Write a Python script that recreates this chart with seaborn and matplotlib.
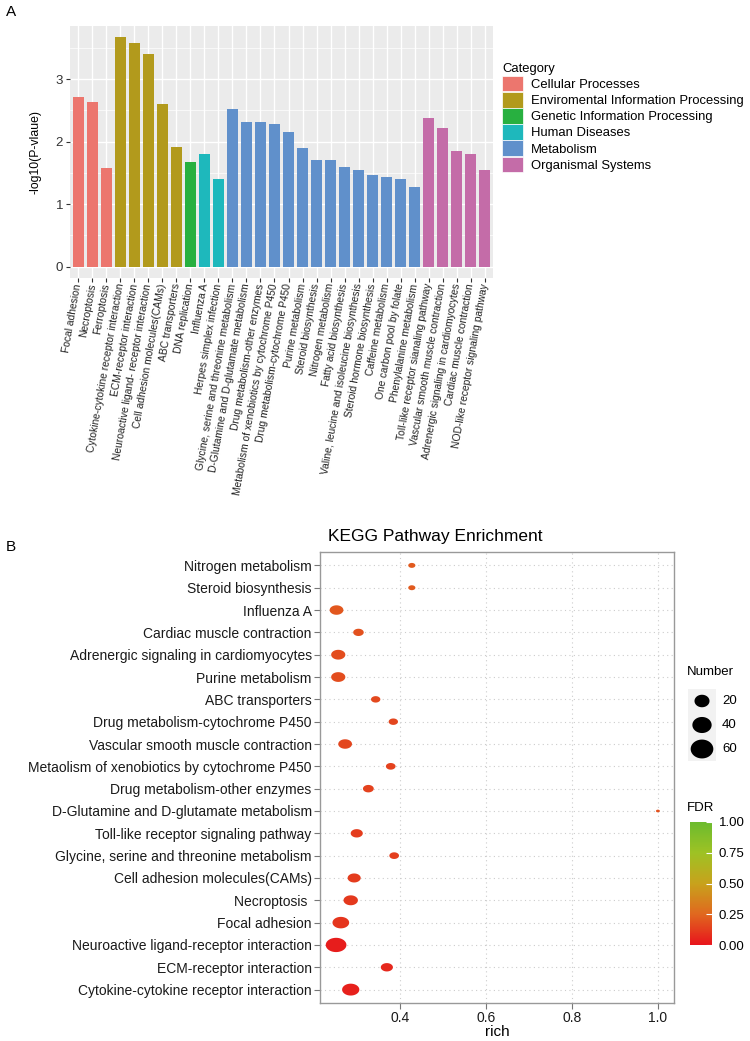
import numpy as np
import pandas as pd
import matplotlib
matplotlib.use("Agg")
import matplotlib.pyplot as plt
from matplotlib.path import Path
from matplotlib.patches import Patch
from matplotlib.colors import LinearSegmentedColormap, Normalize
from matplotlib.cm import ScalarMappable
import seaborn as sns

# ---- panel A data: -log10(p) per KEGG pathway
pathways_a = [
    'Focal adhesion', 'Necroptosis', 'Ferroptosis',
    'Cytokine-cytokine receptor interaction', 'ECM-receptor interaction',
    'Neuroactive ligand- receptor interaction', 'Cell adhesion molecules(CAMs)',
    'ABC transporters', 'DNA replication', 'Influenza A', 'Herpes simplex infection',
    'Glycine, serine and threonine metabolism', 'D-Glutamine and D-glutamate metabolism',
    'Drug metabolism-other enzymes', 'Metabolism of xenobiotics by cytochrome P450',
    'Drug metabolism-cytochrome P450', 'Purine metabolism', 'Steroid biosynthesis',
    'Nitrogen metabolism', 'Fatty acid biosynthesis',
    'Valine, leucine and isoleucine biosynthesis', 'Steroid hormone biosynthesis',
    'Caffeine metabolism', 'One carbon pool by folate', 'Phenylalanine metabolism',
    'Toll-like receptor sianaling pathway', 'Vascular smooth muscle contraction',
    'Adrenergic signaling in cardiomyocytes', 'Cardiac muscle contraction',
    'NOD-like receptor signaling pathway',
]
logp_a = [2.71, 2.64, 1.58, 3.67, 3.58, 3.40, 2.60, 1.92, 1.67, 1.80, 1.41,
          2.53, 2.32, 2.32, 2.28, 2.16, 1.90, 1.70, 1.70, 1.59, 1.54, 1.46,
          1.44, 1.40, 1.28, 2.38, 2.22, 1.85, 1.81, 1.55]
category_a = (['Cellular Processes'] * 3 + ['Enviromental Information Processing'] * 5
              + ['Genetic Information Processing'] + ['Human Diseases'] * 2
              + ['Metabolism'] * 14 + ['Organismal Systems'] * 5)
category_order = ['Cellular Processes', 'Enviromental Information Processing',
                  'Genetic Information Processing', 'Human Diseases',
                  'Metabolism', 'Organismal Systems']
category_colors = ['#EC766E', '#B29A1C', '#28B040', '#1EB8BC', '#6090CB', '#C46CA8']

# ---- panel B data: enrichment dot plot (top row first)
pathways_b = [
    'Nitrogen metabolism', 'Steroid biosynthesis', 'Influenza A',
    'Cardiac muscle contraction', 'Adrenergic signaling in cardiomyocytes',
    'Purine metabolism', 'ABC transporters', 'Drug metabolism-cytochrome P450',
    'Vascular smooth muscle contraction', 'Metaolism of xenobiotics by cytochrome P450',
    'Drug metabolism-other enzymes', 'D-Glutamine and D-glutamate metabolism',
    'Toll-like receptor signaling pathway', 'Glycine, serine and threonine metabolism',
    'Cell adhesion molecules(CAMs)', 'Necroptosis ', 'Focal adhesion',
    'Neuroactive ligand-receptor interaction', 'ECM-receptor interaction',
    'Cytokine-cytokine receptor interaction',
]
rich_b = [0.428, 0.428, 0.253, 0.304, 0.257, 0.257, 0.344, 0.385, 0.273, 0.379,
          0.327, 1.0, 0.300, 0.387, 0.294, 0.286, 0.263, 0.252, 0.370, 0.286]
number_b = [7, 7, 30, 17, 32, 32, 13, 13, 30, 14, 18, 1, 23, 14, 27, 33, 45, 70, 23, 48]
fdr_b = [0.21, 0.21, 0.20, 0.18, 0.17, 0.17, 0.16, 0.15, 0.15, 0.14, 0.14, 0.18,
         0.12, 0.13, 0.12, 0.11, 0.10, 0.03, 0.06, 0.04]
number_breaks = [20, 40, 60]
fdr_ticks = [0.0, 0.25, 0.5, 0.75, 1.0]

plt.rcParams['font.family'] = ['Liberation Sans', 'DejaVu Sans']

W, H = 750, 1041
fig = plt.figure(figsize=(W / 100, H / 100), dpi=100)


def fbox(x0, y0, x1, y1):
    # pixel box (top-left origin) -> figure fraction rect
    return [x0 / W, 1 - y1 / H, (x1 - x0) / W, (y1 - y0) / H]


# ================= Panel A =================
df_a = pd.DataFrame({'pathway': pathways_a, 'logp': logp_a, 'category': category_a})
ax1 = fig.add_axes(fbox(70, 26, 493, 278))
ax1.set_facecolor('#EBEBEB')
sns.barplot(data=df_a, x='pathway', y='logp', hue='category', hue_order=category_order,
            palette=dict(zip(category_order, category_colors)), dodge=False,
            saturation=1, width=0.84, linewidth=0, ax=ax1, legend=False)
ax1.set_xlim(-0.6, len(pathways_a) - 0.4)
ax1.set_ylim(-0.18, 3.85)
ax1.set_yticks([0, 1, 2, 3])
ax1.set_yticks([0.5, 1.5, 2.5, 3.5], minor=True)
ax1.set_axisbelow(True)
ax1.grid(which='major', color='white', lw=1.0)
ax1.grid(which='minor', axis='y', color='white', lw=0.5)
for s in ax1.spines.values():
    s.set_visible(False)
ax1.tick_params(axis='y', which='major', labelsize=9.5, length=3, color='#333333',
                labelcolor='#333333', pad=2)
ax1.tick_params(axis='y', which='minor', length=0)
ax1.tick_params(axis='x', length=3, color='#333333', pad=1)
ax1.set_xticks(range(len(pathways_a)))
ax1.set_xticklabels(pathways_a, rotation=80, ha='right', va='center',
                    rotation_mode='anchor', fontsize=7.4, color='#222222')
ax1.set_xlabel('')
ax1.set_ylabel('-log10(P-vlaue)', fontsize=8.8, labelpad=10)

handles = [Patch(facecolor=c, edgecolor='white', lw=0.5) for c in category_colors]
leg = ax1.legend(handles, category_order, title='Category', loc='upper left',
                 bbox_to_anchor=(497 / W, 1 - 58 / H), bbox_transform=fig.transFigure,
                 frameon=False, fontsize=9.4, title_fontsize=9.4, handlelength=1.6,
                 handleheight=1.45, labelspacing=0.05, handletextpad=0.6,
                 alignment='left', borderaxespad=0)

fig.text(6 / W, 1 - 12 / H, 'A', fontsize=11, va='center')
fig.text(6 / W, 1 - 547 / H, 'B', fontsize=11, va='center')

# ================= Panel B =================
df_b = pd.DataFrame({'pathway': pathways_b, 'rich': rich_b,
                     'number': number_b, 'fdr': fdr_b}).iloc[::-1]
fdr_cmap = LinearSegmentedColormap.from_list(
    'fdr', ['#E8141C', '#E0681F', '#C8A21C', '#9EC224', '#6CBB2E'])

t = np.linspace(0, 2 * np.pi, 60)
ellipse = Path(np.column_stack([1.45 * np.cos(t), np.sin(t)]), closed=True)
ellipse_key = Path(np.column_stack([1.2 * np.cos(t), np.sin(t)]), closed=True)

ax2 = fig.add_axes(fbox(320, 552, 674, 1003))
sns.scatterplot(data=df_b, x='rich', y='pathway', size='number', sizes=(8, 222),
                size_norm=(1, 70), hue='fdr', palette=fdr_cmap, hue_norm=(0, 1),
                marker=ellipse, linewidth=0, ax=ax2, legend=False, zorder=3)
n = len(pathways_b)
ax2.set_ylim(-0.6, n - 0.4)
ax2.set_xlim(0.2146, 1.0374)
ax2.set_xticks([0.4, 0.6, 0.8, 1.0])
ax2.set_xticklabels(['0.4', '0.6', '0.8', '1.0'])
ax2.grid(True, color='#CCCCCC', lw=0.8, ls=(0, (1, 3)))
ax2.set_axisbelow(True)
for s in ax2.spines.values():
    s.set_color('#999999')
    s.set_linewidth(1.0)
ax2.tick_params(axis='both', length=4, color='#777777', labelsize=10,
                labelcolor='#1A1A1A', pad=2)
ax2.set_ylabel('')
ax2.set_xlabel('rich', fontsize=11, labelpad=0)
fig.text(435 / W, 1 - 537 / H, 'KEGG Pathway Enrichment', fontsize=12.5,
         ha='center', va='center')

# Number legend
fig.text(687 / W, 1 - 672 / H, 'Number', fontsize=9.5, va='center')
axn = fig.add_axes(fbox(688, 689, 716, 761))
axn.set_facecolor('#F2F2F2')
for s in axn.spines.values():
    s.set_visible(False)
axn.set_xticks([])
axn.set_yticks([])
axn.set_xlim(0, 1)
axn.set_ylim(len(number_breaks) - 0.5, -0.5)
key_sizes = [117, 193, 266]
axn.scatter([0.5] * len(number_breaks), range(len(number_breaks)), s=key_sizes,
            marker=ellipse_key, color='black', linewidth=0)
for i, v in enumerate(number_breaks):
    axn.text(1.22, i, str(v), fontsize=9.5, va='center', ha='left', clip_on=False)

# FDR colorbar
fig.text(687 / W, 1 - 808 / H, 'FDR', fontsize=9.5, va='center')
cax = fig.add_axes(fbox(690, 822, 712, 945))
cb = fig.colorbar(ScalarMappable(norm=Normalize(0, 1), cmap=fdr_cmap), cax=cax,
                  ticks=fdr_ticks)
cb.outline.set_visible(False)
cb.ax.set_yticklabels(['%.2f' % v for v in fdr_ticks])
cax.tick_params(length=4, color='white', direction='in', labelsize=9.5, pad=5,
                width=0.8)

fig.savefig('out.png', dpi=100)
